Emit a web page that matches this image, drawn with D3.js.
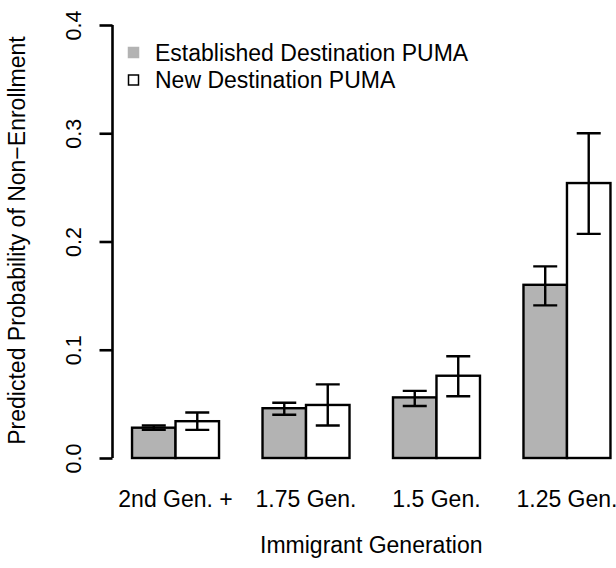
<!DOCTYPE html>
<html>
<head>
<meta charset="utf-8">
<script src="https://cdn.jsdelivr.net/npm/d3@7"></script>
<style>
  body { margin: 0; background: #fff; }
  svg { display: block; font-family: "Liberation Sans", Arial, Helvetica, sans-serif; }
</style>
</head>
<body>
<svg id="chart"></svg>
<script>
const categories = ["2nd Gen. +", "1.75 Gen.", "1.5 Gen.", "1.25 Gen."];
const seriesNames = ["Established Destination PUMA", "New Destination PUMA"];
const established = [0.028, 0.046, 0.056, 0.160];
const establishedLo = [0.026, 0.040, 0.048, 0.141];
const establishedHi = [0.030, 0.051, 0.062, 0.177];
const newDest = [0.034, 0.049, 0.076, 0.254];
const newDestLo = [0.026, 0.030, 0.057, 0.207];
const newDestHi = [0.042, 0.068, 0.094, 0.300];
const yTicks = [0, 0.1, 0.2, 0.3, 0.4];

const width = 616, height = 568;
const fills = ["#b3b3b3", "#ffffff"];
const fontSize = 23;

const svg = d3.select("#chart").attr("width", width).attr("height", height);

// x in barplot units: groups of 2 bars with 1 unit gap, first bar at 1
const x = d3.scaleLinear().domain([0.56, 12.44]).range([112.9, 629.6]);
const y = d3.scaleLinear().domain([0, 0.4]).range([458, 25]);
const unit = x(1) - x(0);

const bars = [];
categories.forEach((c, i) => {
  bars.push({ cat: c, s: 0, left: 1 + 3 * i, v: established[i], lo: establishedLo[i], hi: establishedHi[i] });
  bars.push({ cat: c, s: 1, left: 2 + 3 * i, v: newDest[i], lo: newDestLo[i], hi: newDestHi[i] });
});

// bars
svg.append("g")
  .selectAll("rect")
  .data(bars)
  .join("rect")
  .attr("x", (d) => x(d.left))
  .attr("y", (d) => y(d.v))
  .attr("width", unit)
  .attr("height", (d) => y(0) - y(d.v))
  .attr("fill", (d) => fills[d.s])
  .attr("stroke", "#000")
  .attr("stroke-width", 2.4);

// error bars
const capHalf = 12;
const err = svg.append("g").attr("stroke", "#000").attr("stroke-width", 2.4).attr("fill", "none");
err.selectAll("path")
  .data(bars)
  .join("path")
  .attr("d", (d) => {
    const cx = x(d.left + 0.5);
    return `M${cx},${y(d.lo)}V${y(d.hi)}M${cx - capHalf},${y(d.hi)}H${cx + capHalf}M${cx - capHalf},${y(d.lo)}H${cx + capHalf}`;
  });

// y axis
const yAxis = svg.append("g")
  .attr("transform", `translate(${x.range()[0] - 0.4},0)`)
  .call(d3.axisLeft(y).tickValues(yTicks).tickSize(13).tickPadding(0).tickFormat(d3.format(".1f")));
yAxis.select(".domain").attr("d", `M0,${y(0)}V${y(0.4)}`).attr("stroke-width", 2.6);
yAxis.selectAll(".tick line").attr("stroke-width", 2.6);
yAxis.selectAll(".tick text")
  .attr("x", null).attr("dy", null)
  .attr("text-anchor", "middle")
  .attr("transform", "translate(-32,0) rotate(-90)")
  .attr("font-size", 21.5)
  .attr("font-family", null)
  .attr("fill", "#000");

// category labels
svg.append("g")
  .selectAll("text")
  .data(categories)
  .join("text")
  .attr("x", (d, i) => x(2 + 3 * i))
  .attr("y", 507)
  .attr("text-anchor", "middle")
  .attr("font-size", fontSize)
  .text((d) => d);

// axis titles
svg.append("text")
  .attr("x", x(6.5))
  .attr("y", 553)
  .attr("text-anchor", "middle")
  .attr("font-size", fontSize)
  .text("Immigrant Generation");

svg.append("text")
  .attr("transform", `translate(25,${(y(0) + y(0.4)) / 2 - 1}) rotate(-90)`)
  .attr("text-anchor", "middle")
  .attr("font-size", fontSize)
  .text("Predicted Probability of Non\u2212Enrollment");

// legend
const legend = svg.append("g").attr("transform", "translate(128,47)");
seriesNames.forEach((name, i) => {
  legend.append("rect")
    .attr("x", 0.5).attr("y", i * 27.5 + 0.5)
    .attr("width", 10).attr("height", 10)
    .attr("fill", fills[i])
    .attr("stroke", i === 0 ? "#b3b3b3" : "#000")
    .attr("stroke-width", 1.5);
  legend.append("text")
    .attr("x", 27).attr("y", i * 27.5 + 13.5)
    .attr("font-size", fontSize)
    .text(name);
});
</script>
</body>
</html>
